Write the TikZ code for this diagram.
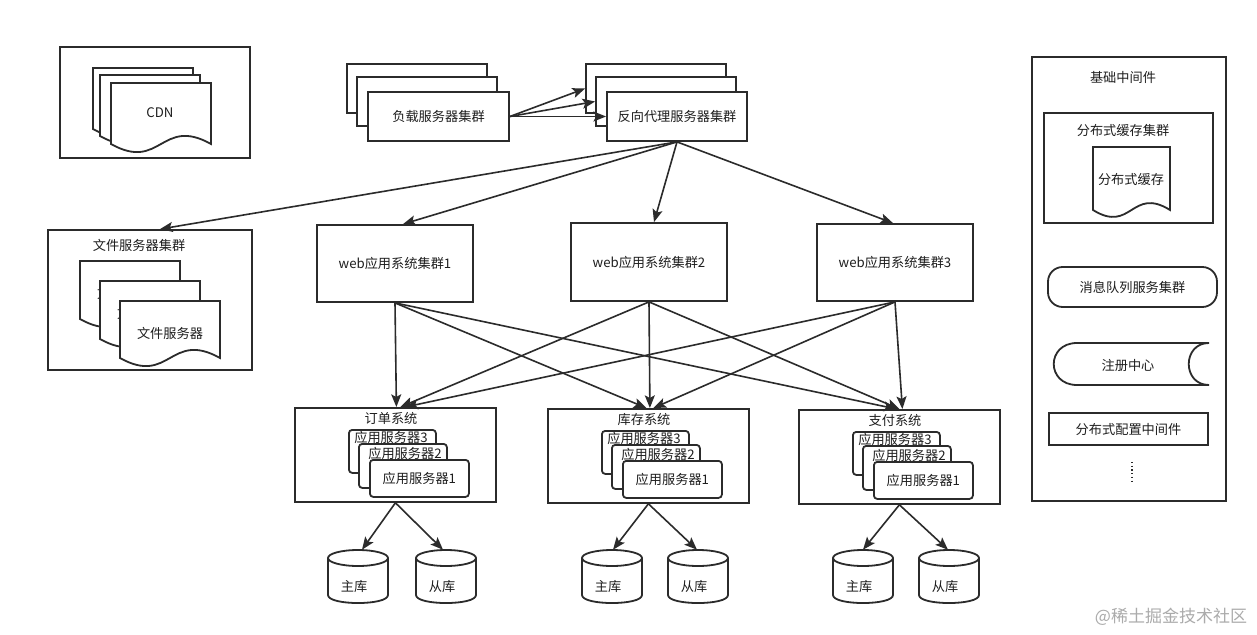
\documentclass[tikz,border=0pt]{standalone}
\usepackage{fontspec}
\setmainfont{Noto Sans CJK SC}
\usetikzlibrary{arrows.meta,calc}
\definecolor{lc}{HTML}{2B2B2B}
\definecolor{tc}{HTML}{1E1E1E}
\definecolor{wmc}{HTML}{ABABAB}
\tikzset{
  every node/.style={font=\fontsize{9.9}{11}\selectfont, text=tc},
  ln/.style={draw=lc, line width=1.35pt},
  bx/.style 2 args={ln, fill=white, rectangle, inner sep=0pt, minimum width=#1*0.75pt, minimum height=#2*0.75pt},
  obx/.style 2 args={ln, rectangle, inner sep=0pt, minimum width=#1*0.75pt, minimum height=#2*0.75pt},
  rbx/.style 2 args={bx={#1}{#2}, rounded corners=2.5pt},
  arr/.style={draw=lc, line width=1.2pt, -{Stealth[length=9.5pt,width=7.5pt,inset=2pt]}},
  txt/.style={inner sep=0pt},
}
% document shape: x y w h a
\newcommand\docshp[5]{%
  \path[ln, fill=white] (#1,#2) -- ({#1+#3},#2) -- ({#1+#3},{#2+#4})
    .. controls ({#1+0.5*#3},{#2+#4-2*#5}) and ({#1+0.5*#3},{#2+#4+2*#5}) .. (#1,{#2+#4}) -- cycle;}
% system block: name X Y title
\newcommand\sysblk[4]{%
  \node[bx={201}{94}, anchor=north west] (#1) at (#2,#3) {};
  \node[txt] (#1T) at ({#2+97},{#3+11}) {#4};
  \node[rbx={87}{43}, anchor=north west] (#1c) at ({#2+54},{#3+22}) {};
  \node[txt] (#1ct) at ({#2+97},{#3+30}) {应用服务器3};
  \node[rbx={88}{44}, anchor=north west] (#1b) at ({#2+64},{#3+36}) {};
  \node[txt] (#1bt) at ({#2+111},{#3+46}) {应用服务器2};
  \node[rbx={99}{37}, anchor=north west] (#1a) at ({#2+75},{#3+52}) {应用服务器1};
}
% database cylinder: name cx label
\newcommand\dbcyl[3]{%
  \node[inner sep=0pt, minimum width=45pt, minimum height=39.75pt] (#1) at (#2,576.5) {};
  \path[ln, fill=white] ({#2-30},558) -- ({#2-30},595)
    .. controls ({#2-30},605.7) and ({#2+30},605.7) .. ({#2+30},595) -- ({#2+30},558);
  \draw[ln, fill=white] (#2,558) ellipse [x radius=22.5pt, y radius=6pt];
  \node[txt] (#1t) at ({#2-4},587) {#3};
}
\begin{document}
\begin{tikzpicture}[x=0.75pt,y=-0.75pt]
\fill[white] (0,0) rectangle (1257,635);
\useasboundingbox (0,0) rectangle (1257,635);

% CDN
\node[obx={190}{111}] (cdnbox) at (155,102.5) {};
\docshp{93}{68}{100}{61}{14}
\docshp{100}{75}{100}{61}{14}
\docshp{111}{83}{100}{61}{14}
\node[txt] (cdn) at (160,113) {CDN};

% load balancer stack
\node[bx={140}{49}] (lb3) at (417,88.5) {};
\node[bx={140}{49}] (lb2) at (427,101.5) {};
\node[bx={141}{49}] (lb1) at (438.5,116.5) {负载服务器集群};

% reverse proxy stack
\node[bx={140}{49}] (px3) at (656,88.5) {};
\node[bx={140}{49}] (px2) at (666,101.5) {};
\node[bx={140}{49}] (px1) at (677,116.5) {反向代理服务器集群};

\draw[arr] (lb1.east) -- (px3.west);
\draw[arr] (lb1.east) -- (px2.west);
\draw[arr] (lb1.east) -- (px1.west);

% file servers
\node[obx={204}{140}] (filebox) at (150,300) {};
\node[txt] (fileT) at (139,245) {文件服务器集群};
\docshp{80}{261}{100}{58}{14}
\node[txt] (f3t) at (130,293) {文件服务器};
\docshp{100}{281}{100}{58}{14}
\node[txt] (f2t) at (150,313) {文件服务器};
\docshp{120}{301}{100}{57}{14}
\node[txt] (f1t) at (170,333) {文件服务器};

% web clusters
\node[bx={156}{77}] (web1) at (395,263.5) {web应用系统集群1};
\node[bx={156}{78}] (web2) at (649,262) {web应用系统集群2};
\node[bx={156}{77}] (web3) at (895,262.5) {web应用系统集群3};

\draw[arr] (px1.south) -- ($(filebox.north)+(10,0)$);
\draw[arr] (px1.south) -- ($(web1.north)+(8,0)$);
\draw[arr] (px1.south) -- ($(web2.north)+(5,0)$);
\draw[arr] (px1.south) -- ($(web3.north)+(-2,0)$);

% systems
\sysblk{ord}{294}{407}{订单系统}
\sysblk{stk}{547}{408}{库存系统}
\sysblk{pay}{798}{409}{支付系统}

\draw[arr] (web1.south) -- ($(ord.north)+(1,0)$);
\draw[arr] (web1.south) -- ($(stk.north)+(-2,0)$);
\draw[arr] (web1.south) -- ($(pay.north)+(-3,0)$);
\draw[arr] (web2.south) -- ($(ord.north)+(5,0)$);
\draw[arr] (web2.south) -- ($(stk.north)+(1.5,0)$);
\draw[arr] (web2.south) -- ($(pay.north)+(0,0)$);
\draw[arr] (web3.south) -- ($(ord.north)+(10,0)$);
\draw[arr] (web3.south) -- ($(stk.north)+(5,0)$);
\draw[arr] (web3.south) -- ($(pay.north)+(3,0)$);

% databases
\dbcyl{om}{358}{主库}
\dbcyl{os}{446}{从库}
\dbcyl{sm}{612}{主库}
\dbcyl{ss}{698}{从库}
\dbcyl{pm}{863}{主库}
\dbcyl{ps}{949}{从库}

\draw[arr] (ord.south) -- ($(om.north)+(4,0)$);
\draw[arr] (ord.south) -- ($(os.north)+(-3,0)$);
\draw[arr] (stk.south) -- ($(sm.north)+(1,0)$);
\draw[arr] (stk.south) -- ($(ss.north)+(-1,0)$);
\draw[arr] (pay.south) -- (pm.north);
\draw[arr] (pay.south) -- ($(ps.north)+(-1,0)$);

% middleware panel
\node[obx={194}{444}] (mw) at (1129,279) {};
\node[txt] (mwT) at (1123,77) {基础中间件};
\node[obx={169}{110}] (cache) at (1128.5,168) {};
\node[txt] (cacheT) at (1123,130) {分布式缓存集群};
\docshp{1093}{147}{77}{63}{12}
\node[txt] (cached) at (1131,179) {分布式缓存};
\node[bx={169}{40}, rounded corners=11pt] (mq) at (1132.5,287) {消息队列服务集群};
\path[ln, fill=white] (1209,385) -- (1077,385) .. controls (1046,385) and (1046,343) .. (1077,343)
  -- (1209,343) .. controls (1182,343) and (1182,385) .. (1209,385);
\node[txt] (reg) at (1128,365) {注册中心};
\node[bx={159}{32}] (cfg) at (1128.5,429) {分布式配置中间件};
\draw[lc, line width=0.8pt, dotted] (1132,462) -- (1132,481);

% watermark
\node[txt, text=wmc, font=\fontsize{12.75}{14}\selectfont] (wm) at (1171,617) {@稀土掘金技术社区};
\end{tikzpicture}
\end{document}
